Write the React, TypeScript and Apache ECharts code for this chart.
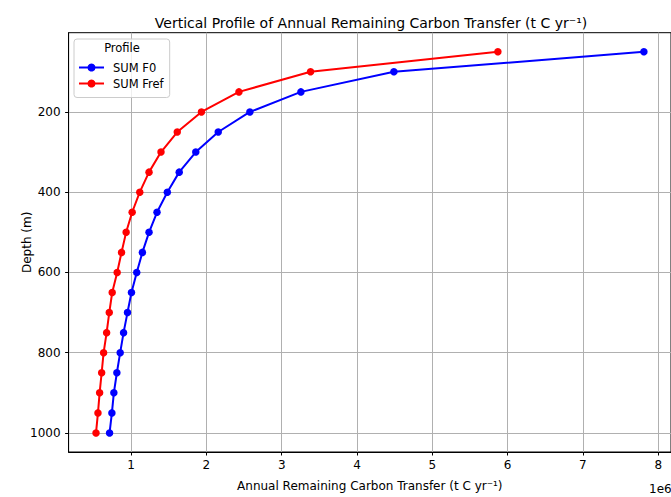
import React, { useEffect, useRef } from "react";
import * as echarts from "echarts";

const depths = [50, 100, 150, 200, 250, 300, 350, 400, 450, 500, 550, 600, 650, 700, 750, 800, 850, 900, 950, 1000];
const sumF0 = [7.81e6, 4.49e6, 3.255e6, 2.577e6, 2.157e6, 1.859e6, 1.639e6, 1.481e6, 1.344e6, 1.238e6, 1.15e6, 1.075e6, 1.005e6, 0.952e6, 0.9e6, 0.855e6, 0.811e6, 0.771e6, 0.745e6, 0.714e6];
const sumFref = [5.871e6, 3.383e6, 2.432e6, 1.934e6, 1.613e6, 1.397e6, 1.238e6, 1.115e6, 1.014e6, 0.934e6, 0.873e6, 0.815e6, 0.749e6, 0.71e6, 0.675e6, 0.635e6, 0.609e6, 0.582e6, 0.56e6, 0.534e6];
const xTicks = [1e6, 2e6, 3e6, 4e6, 5e6, 6e6, 7e6, 8e6];
const yTicks = [200, 400, 600, 800, 1000];

const FONT = "DejaVu Sans";

export default function App() {
  const ref = useRef<HTMLDivElement>(null);
  useEffect(() => {
    if (!ref.current) return;
    const chart = echarts.init(ref.current, undefined, { renderer: "svg" });
    const mk = (vals: number[]) => vals.map((v, i) => [v, depths[i]]);
    chart.setOption({
      animation: false,
      backgroundColor: "#ffffff",
      textStyle: { fontFamily: FONT },
      grid: {
        left: 68.6,
        top: 32.7,
        right: -3,
        bottom: 41,
        show: true,
        borderColor: "#000",
        borderWidth: 1,
        backgroundColor: "transparent",
      },
      graphic: [
        {
          type: "text",
          x: 371,
          y: 22.5,
          style: {
            text: "Vertical Profile of Annual Remaining Carbon Transfer (t C yr\u207B\u00B9)",
            fontFamily: FONT,
            fontSize: 14,
            fill: "#000",
            align: "center",
            verticalAlign: "middle",
          },
        },
        {
          type: "text",
          x: 649,
          y: 488.5,
          style: { text: "1e6", fontFamily: FONT, fontSize: 12, fill: "#000", align: "left", verticalAlign: "middle" },
        },
        {
          type: "text",
          x: 122,
          y: 47.5,
          z: 100,
          style: { text: "Profile", fontFamily: FONT, fontSize: 11.5, fill: "#000", align: "center", verticalAlign: "middle" },
        },
      ],
      legend: {
        orient: "vertical",
        left: 74,
        top: 39,
        padding: [22.5, 6, 8, 4],
        itemGap: 4,
        itemWidth: 25,
        itemHeight: 10,
        borderColor: "#cccccc",
        borderWidth: 1,
        borderRadius: 3,
        backgroundColor: "rgba(255,255,255,0.8)",
        textStyle: { fontFamily: FONT, fontSize: 11.5, color: "#000", padding: [0, 0, 0, 4] },
        data: ["SUM F0", "SUM Fref"],
      },
      xAxis: {
        type: "value",
        min: 0.17e6,
        max: 8.17e6,
        name: "Annual Remaining Carbon Transfer (t C yr\u207B\u00B9)",
        nameLocation: "middle",
        nameGap: 28,
        nameMoveOverlap: false,
        nameTextStyle: { fontFamily: FONT, fontSize: 12, color: "#000" },
        axisLine: { show: true, lineStyle: { color: "#000", width: 1 } },
        axisTick: { show: true, length: 3.5, customValues: xTicks, lineStyle: { color: "#000" } },
        axisLabel: {
          customValues: xTicks,
          formatter: (v: number) => String(Math.round(v / 1e6)),
          fontFamily: FONT,
          fontSize: 12,
          color: "#000",
          margin: 7,
        },
        splitLine: { show: true, lineStyle: { color: "#b0b0b0", width: 1 } },
      },
      yAxis: {
        type: "value",
        inverse: true,
        min: 2.5,
        max: 1047.5,
        name: "Depth (m)",
        nameLocation: "middle",
        nameGap: 36,
        nameMoveOverlap: false,
        nameTextStyle: { fontFamily: FONT, fontSize: 12, color: "#000" },
        axisLine: { show: true, lineStyle: { color: "#000", width: 1 } },
        axisTick: { show: true, length: 3.5, customValues: yTicks, lineStyle: { color: "#000" } },
        axisLabel: {
          customValues: yTicks,
          formatter: (v: number) => String(v),
          fontFamily: FONT,
          fontSize: 12,
          color: "#000",
          margin: 8,
        },
        splitLine: { show: true, lineStyle: { color: "#b0b0b0", width: 1 } },
      },
      series: [
        {
          name: "SUM F0",
          type: "line",
          data: mk(sumF0),
          color: "#0000ff",
          lineStyle: { width: 2, color: "#0000ff" },
          itemStyle: { color: "#0000ff" },
          symbol: "circle",
          symbolSize: 7.5,
          showSymbol: true,
        },
        {
          name: "SUM Fref",
          type: "line",
          data: mk(sumFref),
          color: "#ff0000",
          lineStyle: { width: 2, color: "#ff0000" },
          itemStyle: { color: "#ff0000" },
          symbol: "circle",
          symbolSize: 7.5,
          showSymbol: true,
        },
      ],
    });
    return () => chart.dispose();
  }, []);
  return (
    <div
      ref={ref}
      style={{ position: "fixed", left: 0, top: 0, width: 671, height: 497 }}
    />
  );
}
